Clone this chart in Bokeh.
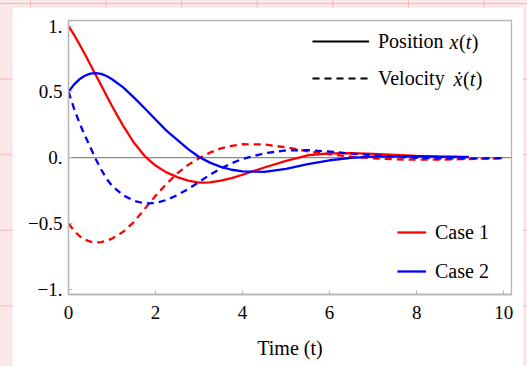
from bokeh.plotting import figure
from bokeh.models import Legend, LegendItem, Span, Range1d, FixedTicker, Label
from bokeh.embed import file_html
from bokeh.resources import INLINE

# ---- data ----
t_pos = [0, 0.125, 0.25, 0.375, 0.5, 0.625, 0.75, 0.875, 1.0, 1.25, 1.5, 1.75, 2.0, 2.25,
         2.5, 2.75, 3.0, 3.25, 3.5, 3.75, 4.0, 4.5, 5.0, 5.5, 6.0, 6.5, 7.0, 7.5, 8.0,
         8.5, 9.0, 9.2]
t_vel = [0, 0.125, 0.25, 0.375, 0.5, 0.625, 0.75, 0.875, 1.0, 1.25, 1.5, 1.75, 2.0, 2.25,
         2.5, 2.75, 3.0, 3.25, 3.5, 3.75, 4.0, 4.5, 5.0, 5.5, 6.0, 6.5, 7.0, 7.5, 8.0,
         8.5, 9.0, 9.5, 10.0]

case1_pos = [1.0, 0.934, 0.862, 0.787, 0.708, 0.629, 0.55, 0.47, 0.392, 0.245, 0.115,
             0.012, -0.06, -0.112, -0.148, -0.175, -0.19, -0.188, -0.175, -0.155, -0.13,
             -0.075, -0.025, 0.018, 0.032, 0.035, 0.028, 0.021, 0.013, 0.008, 0.005, 0.004]
case1_vel = [-0.5, -0.555, -0.595, -0.622, -0.638, -0.645, -0.642, -0.632, -0.615, -0.565,
             -0.49, -0.39, -0.29, -0.2, -0.12, -0.055, -0.005, 0.038, 0.07, 0.09, 0.102,
             0.1, 0.078, 0.048, 0.025, 0.008, -0.006, -0.013, -0.016, -0.015, -0.012,
             -0.008, -0.005]
case2_pos = [0.5, 0.555, 0.595, 0.622, 0.638, 0.642, 0.636, 0.62, 0.596, 0.536, 0.458,
             0.375, 0.29, 0.205, 0.135, 0.065, 0.005, -0.038, -0.07, -0.092, -0.105,
             -0.108, -0.085, -0.05, -0.02, -0.002, 0.007, 0.01, 0.01, 0.008, 0.006, 0.005]
case2_vel = [0.5, 0.375, 0.265, 0.17, 0.08, -0.01, -0.09, -0.16, -0.215, -0.285, -0.327,
             -0.348, -0.345, -0.322, -0.285, -0.238, -0.185, -0.13, -0.082, -0.042, -0.01,
             0.033, 0.055, 0.057, 0.046, 0.031, 0.018, 0.007, -0.001, -0.005, -0.006,
             -0.005, -0.004]

x_ticks = [0, 2, 4, 6, 8, 10]
y_ticks = [-1, -0.5, 0, 0.5, 1]
y_tick_labels = ["\u22121.", "\u22120.5", "0.", "0.5", "1."]
style_words = ["Position", "Velocity"]
style_vars = ["x", "\u1e8b"]
case_names = ["Case 1", "Case 2"]
x_title = "Time (t)"

FONT = "Liberation Serif"
FS = "19px"
LFS = "20px"
GREY = "#b5b5b5"
RED = "#ff0000"
BLUE = "#0000ff"
NAN = float("nan")

p = figure(width=511, height=359, output_backend="svg", toolbar_location=None,
           x_range=Range1d(0, 10.18), y_range=Range1d(-1.04, 1.042),
           min_border_left=56, min_border_right=12, min_border_top=13, min_border_bottom=72)
p.background_fill_color = "white"
p.border_fill_color = "white"
p.outline_line_color = GREY
p.outline_line_width = 1.3
p.grid.visible = False

zero = Span(location=0, dimension="width", line_color="#8a8a8a", line_width=1.2, level="underlay")
p.add_layout(zero)

lw = 2.3
dash = "7 5"
r1p = p.line(t_pos, case1_pos, line_color=RED, line_width=lw)
r1v = p.line(t_vel, case1_vel, line_color=RED, line_width=lw, line_dash=dash)
r2p = p.line(t_pos, case2_pos, line_color=BLUE, line_width=lw)
r2v = p.line(t_vel, case2_vel, line_color=BLUE, line_width=lw, line_dash=dash)

# legend-only renderers (nothing drawn in the plot)
kp = p.line([NAN], [NAN], line_color="black", line_width=2.1)
kv = p.line([NAN], [NAN], line_color="black", line_width=2.1, line_dash=dash)

for ax in (p.xaxis[0], p.yaxis[0]):
    ax.axis_line_color = GREY
    ax.axis_line_width = 1.3
    ax.major_tick_line_color = GREY
    ax.major_tick_in = 4
    ax.major_tick_out = 0
    ax.minor_tick_line_color = None
    ax.major_label_text_font = FONT
    ax.major_label_text_font_size = FS
    ax.major_label_text_color = "black"

p.xaxis.ticker = FixedTicker(ticks=x_ticks)
p.xaxis.major_label_overrides = {v: str(v) for v in x_ticks}
p.xaxis.major_label_standoff = 11
p.xaxis.axis_label = x_title
p.xaxis.axis_label_text_font = FONT
p.xaxis.axis_label_text_font_size = LFS
p.xaxis.axis_label_text_font_style = "normal"
p.xaxis.axis_label_text_color = "black"
p.xaxis.axis_label_standoff = 15

p.yaxis.ticker = FixedTicker(ticks=y_ticks)
p.yaxis.major_label_overrides = dict(zip(y_ticks, y_tick_labels))
p.yaxis.major_label_standoff = 6

def make_legend(items, loc, gw, spacing):
    return Legend(items=items, location=loc, glyph_width=gw, glyph_height=30,
                  label_height=30, spacing=spacing, padding=0, margin=0,
                  label_standoff=9, border_line_alpha=0, background_fill_alpha=0,
                  label_text_font=FONT, label_text_font_size=LFS,
                  label_text_color="black")

leg_style = make_legend([LegendItem(label=style_words[0], renderers=[kp]),
                         LegendItem(label=style_words[1], renderers=[kv])],
                        (244, 201), 57, 7)
leg_case = make_legend([LegendItem(label=case_names[0], renderers=[r1p]),
                        LegendItem(label=case_names[1], renderers=[r2p])],
                       (329, 8), 29, 9)
p.add_layout(leg_style)
p.add_layout(leg_case)

# math part of the style legend: italic variable, upright parentheses
def add_text(txt, x, y, italic):
    p.add_layout(Label(x=x, y=y, x_units="screen", y_units="screen", text=txt,
                       text_font=FONT, text_font_size=LFS, text_color="black",
                       text_font_style="italic" if italic else "normal",
                       text_baseline="middle", text_align="left"))

for var, x0, y0 in ((style_vars[0], 381, 253), (style_vars[1], 385, 216)):
    add_text(var, x0, y0, True)
    add_text("(", x0 + 9.5, y0, False)
    add_text("t", x0 + 16.2, y0, True)
    add_text(")", x0 + 22.2, y0, False)

PAGE = """{% block postamble %}<style>
html, body { margin: 0 !important; padding: 0; overflow: hidden; }
html { background-color: #fbe7e7;
  background-image: linear-gradient(#f1b9b9 1px, transparent 1px),
                    linear-gradient(90deg, #f1b9b9 1px, transparent 1px);
  background-size: 75.6px 75.6px; background-position: 30px 3px; }
body { background: transparent; box-sizing: border-box; padding: 7px 0 0 12px !important; }
</style>{% endblock %}"""

open("out.html", "w").write(file_html(p, INLINE, template=PAGE))
